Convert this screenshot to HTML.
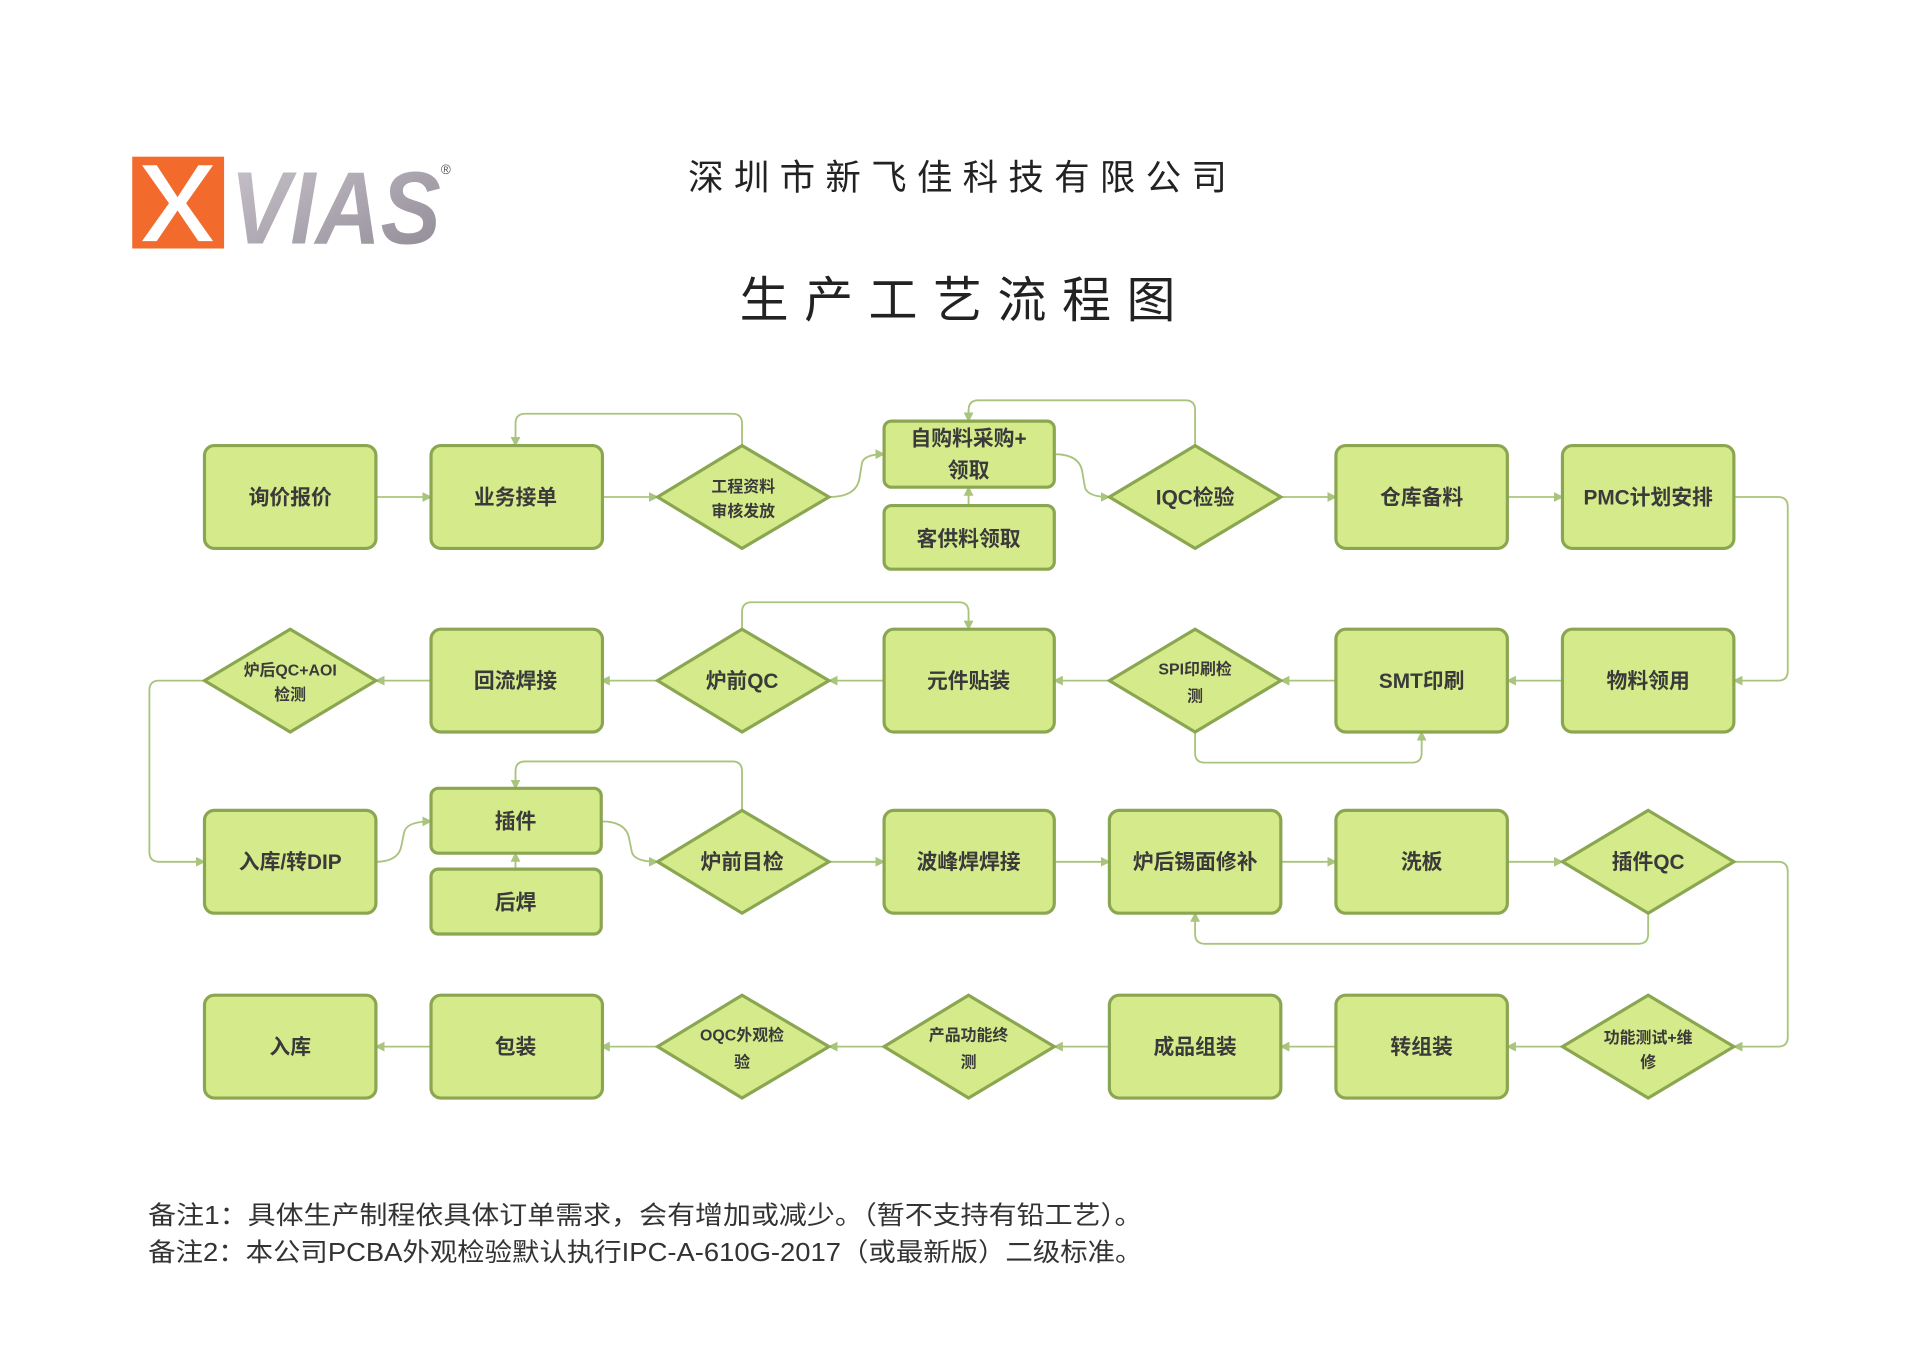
<!DOCTYPE html>
<html><head><meta charset="utf-8"><style>
html,body{margin:0;padding:0;background:#fff;width:1920px;height:1360px;overflow:hidden}
svg{display:block}
text{font-family:"Liberation Sans","Noto Sans CJK SC",sans-serif}
.n{fill:#d5ea8a;stroke:#8ba650;stroke-width:2.6}
.c{fill:none;stroke:#a9c47c;stroke-width:1.5}
.t{font-weight:bold;fill:#3a3a3a;text-anchor:middle;font-size:17px}
.s{font-weight:bold;fill:#3a3a3a;text-anchor:middle;font-size:13px}
</style></head><body>
<svg width="1920" height="1360" viewBox="0 0 1568 1111" preserveAspectRatio="none">
<defs><marker id="a" markerWidth="8" markerHeight="8" refX="7" refY="4" orient="auto" markerUnits="userSpaceOnUse"><path d="M0,0 L8,4 L0,8 z" fill="#a9c47c"/></marker>
<linearGradient id="g" x1="0" y1="0" x2="1" y2="1"><stop offset="0" stop-color="#c9c4cc"/><stop offset="1" stop-color="#8f8994"/></linearGradient></defs>
<!-- logo -->
<rect x="108" y="128" width="75" height="75" fill="#f26b2d"/>
<path d="M116,135 L128,135 L145,161 L162,135 L174,135 L152,166 L174,197 L162,197 L145,172 L128,197 L116,197 L138,166 z" fill="#fff"/>
<text x="188" y="199" font-size="84" font-weight="bold" font-style="italic" fill="url(#g)" textLength="172" lengthAdjust="spacingAndGlyphs">VIAS</text>
<text x="360" y="142" font-size="11" fill="#555">®</text>
<!-- titles -->
<text x="562" y="155" font-size="29" fill="#222" textLength="440" lengthAdjust="spacing">深圳市新飞佳科技有限公司</text>
<text x="604" y="259" font-size="40" fill="#222" textLength="356" lengthAdjust="spacing">生产工艺流程图</text>
<!-- connectors -->
<g class="c" marker-end="url(#a)">
<path d="M307,406 L352,406"/>
<path d="M491,406 L537,406"/>
<path d="M606,364 L606,346 Q606,338 598,338 L429,338 Q421,338 421,346 L421,364"/>
<path d="M677,406 Q700,406 702,390 L704,378 Q706,371 722,371"/>
<path d="M791,413 L791,398"/>
<path d="M976,364 L976,335 Q976,327 968,327 L799,327 Q791,327 791,335 L791,344"/>
<path d="M861,371 Q882,371 884,386 L886,398 Q888,406 906,406"/>
<path d="M1046,406 L1091,406"/>
<path d="M1231,406 L1276,406"/>
<path d="M1416,406 L1452,406 Q1460,406 1460,414 L1460,548 Q1460,556 1452,556 L1416,556"/>
<path d="M1276,556 L1231,556"/>
<path d="M1091,556 L1046,556"/>
<path d="M976,598 L976,615 Q976,623 984,623 L1153,623 Q1161,623 1161,615 L1161,598"/>
<path d="M906,556 L861,556"/>
<path d="M722,556 L677,556"/>
<path d="M606,514 L606,500 Q606,492 614,492 L783,492 Q791,492 791,500 L791,514"/>
<path d="M537,556 L491,556"/>
<path d="M352,556 L307,556"/>
<path d="M167,556 L130,556 Q122,556 122,564 L122,696 Q122,704 130,704 L167,704"/>
<path d="M307,704 Q326,704 328,690 L330,680 Q332,671 352,671"/>
<path d="M421,710 L421,697"/>
<path d="M491,671 Q512,671 514,686 L516,696 Q518,704 537,704"/>
<path d="M606,662 L606,630 Q606,622 598,622 L429,622 Q421,622 421,630 L421,644"/>
<path d="M677,704 L722,704"/>
<path d="M861,704 L906,704"/>
<path d="M1046,704 L1091,704"/>
<path d="M1231,704 L1276,704"/>
<path d="M1346,746 L1346,763 Q1346,771 1338,771 L984,771 Q976,771 976,763 L976,746"/>
<path d="M1416,704 L1452,704 Q1460,704 1460,712 L1460,847 Q1460,855 1452,855 L1416,855"/>
<path d="M1276,855 L1231,855"/>
<path d="M1091,855 L1046,855"/>
<path d="M906,855 L861,855"/>
<path d="M722,855 L677,855"/>
<path d="M537,855 L491,855"/>
<path d="M352,855 L307,855"/>
</g>
<!-- row1 -->
<rect class="n" x="167" y="364" width="140" height="84" rx="8"/><text class="t" x="237" y="412">询价报价</text>
<rect class="n" x="352" y="364" width="140" height="84" rx="8"/><text class="t" x="421" y="412">业务接单</text>
<polygon class="n" points="606,364 677,406 606,448 537,406"/><text class="s" x="607" y="402">工程资料</text><text class="s" x="607" y="422">审核发放</text>
<rect class="n" x="722" y="344" width="139" height="54" rx="6"/><text class="t" x="791" y="364">自购料采购+</text><text class="t" x="791" y="390">领取</text>
<rect class="n" x="722" y="413" width="139" height="52" rx="6"/><text class="t" x="791" y="446">客供料领取</text>
<polygon class="n" points="976,364 1046,406 976,448 906,406"/><text class="t" x="976" y="412">IQC检验</text>
<rect class="n" x="1091" y="364" width="140" height="84" rx="8"/><text class="t" x="1161" y="412">仓库备料</text>
<rect class="n" x="1276" y="364" width="140" height="84" rx="8"/><text class="t" x="1346" y="412">PMC计划安排</text>
<!-- row2 -->
<polygon class="n" points="237,514 307,556 237,598 167,556"/><text class="s" x="237" y="552">炉后QC+AOI</text><text class="s" x="237" y="572">检测</text>
<rect class="n" x="352" y="514" width="140" height="84" rx="8"/><text class="t" x="421" y="562">回流焊接</text>
<polygon class="n" points="606,514 677,556 606,598 537,556"/><text class="t" x="606" y="562">炉前QC</text>
<rect class="n" x="722" y="514" width="139" height="84" rx="8"/><text class="t" x="791" y="562">元件贴装</text>
<polygon class="n" points="976,514 1046,556 976,598 906,556"/><text class="s" x="976" y="551" font-size="14">SPI印刷检</text><text class="s" x="976" y="573" font-size="14">测</text>
<rect class="n" x="1091" y="514" width="140" height="84" rx="8"/><text class="t" x="1161" y="562">SMT印刷</text>
<rect class="n" x="1276" y="514" width="140" height="84" rx="8"/><text class="t" x="1346" y="562">物料领用</text>
<!-- row3 -->
<rect class="n" x="167" y="662" width="140" height="84" rx="8"/><text class="t" x="237" y="710">入库/转DIP</text>
<rect class="n" x="352" y="644" width="139" height="53" rx="6"/><text class="t" x="421" y="677">插件</text>
<rect class="n" x="352" y="710" width="139" height="53" rx="6"/><text class="t" x="421" y="743">后焊</text>
<polygon class="n" points="606,662 677,704 606,746 537,704"/><text class="t" x="606" y="710">炉前目检</text>
<rect class="n" x="722" y="662" width="139" height="84" rx="8"/><text class="t" x="791" y="710">波峰焊焊接</text>
<rect class="n" x="906" y="662" width="140" height="84" rx="8"/><text class="t" x="976" y="710">炉后锡面修补</text>
<rect class="n" x="1091" y="662" width="140" height="84" rx="8"/><text class="t" x="1161" y="710">洗板</text>
<polygon class="n" points="1346,662 1416,704 1346,746 1276,704"/><text class="t" x="1346" y="710">插件QC</text>
<!-- row4 -->
<rect class="n" x="167" y="813" width="140" height="84" rx="8"/><text class="t" x="237" y="861">入库</text>
<rect class="n" x="352" y="813" width="140" height="84" rx="8"/><text class="t" x="421" y="861">包装</text>
<polygon class="n" points="606,813 677,855 606,897 537,855"/><text class="s" x="606" y="850" font-size="14">OQC外观检</text><text class="s" x="606" y="872" font-size="14">验</text>
<polygon class="n" points="791,813 861,855 791,897 722,855"/><text class="s" x="791" y="850" font-size="14">产品功能终</text><text class="s" x="791" y="872" font-size="14">测</text>
<rect class="n" x="906" y="813" width="140" height="84" rx="8"/><text class="t" x="976" y="861">成品组装</text>
<rect class="n" x="1091" y="813" width="140" height="84" rx="8"/><text class="t" x="1161" y="861">转组装</text>
<polygon class="n" points="1346,813 1416,855 1346,897 1276,855"/><text class="s" x="1346" y="852" font-size="12">功能测试+维</text><text class="s" x="1346" y="872" font-size="12">修</text>
<!-- notes -->
<text x="121" y="1000" font-size="21" fill="#333" textLength="812" lengthAdjust="spacingAndGlyphs">备注1：具体生产制程依具体订单需求，会有增加或减少。（暂不支持有铅工艺）。</text>
<text x="121" y="1030" font-size="21" fill="#333" textLength="812" lengthAdjust="spacingAndGlyphs">备注2：本公司PCBA外观检验默认执行IPC-A-610G-2017（或最新版）二级标准。</text>
</svg>
</body></html>
